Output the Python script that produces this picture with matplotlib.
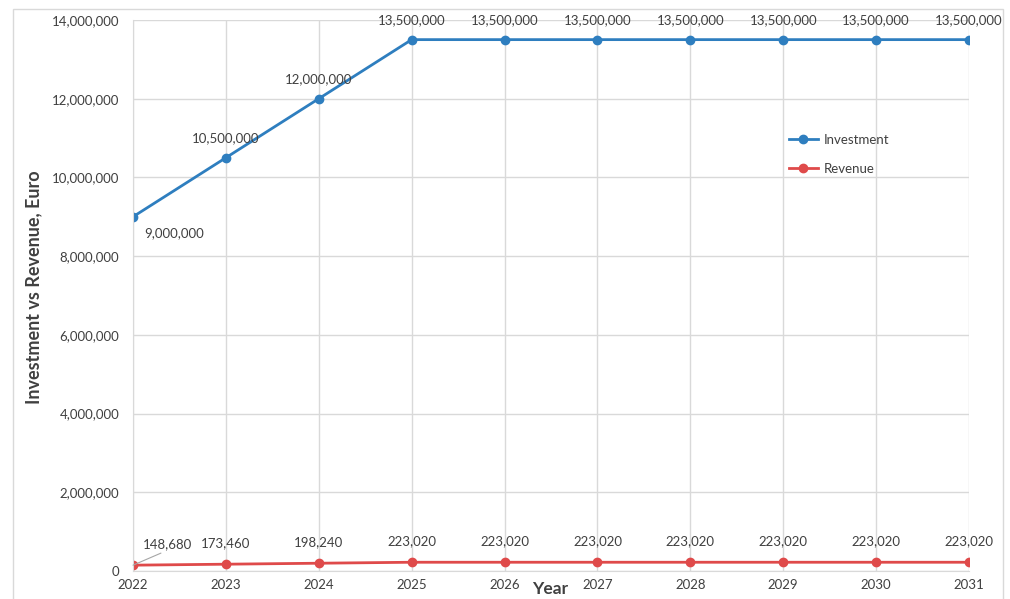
import numpy as np
import matplotlib.pyplot as plt
from matplotlib.patches import Rectangle
from matplotlib.ticker import FuncFormatter

plt.rcParams['font.family'] = ['Lato', 'DejaVu Sans']

years = [2022, 2023, 2024, 2025, 2026, 2027, 2028, 2029, 2030, 2031]
investment = [9000000, 10500000, 12000000, 13500000, 13500000, 13500000,
              13500000, 13500000, 13500000, 13500000]
revenue = [148680, 173460, 198240, 223020, 223020, 223020, 223020, 223020,
           223020, 223020]

azul = '#2e7ebf'
rojo = '#df4a4a'
gris = '#d9d9d9'
texto = '#404040'

fig = plt.figure(figsize=(10.1, 5.99), dpi=100)
ax = fig.add_axes([0.1317, 0.0467, 0.8277, 0.92])

# marco exterior del grafico
fig.patches.append(Rectangle((0.013, -0.01), 0.98, 0.995, transform=fig.transFigure,
                             fill=False, edgecolor=gris, linewidth=1))

ax.plot(years, investment, color=azul, lw=2, marker='o', ms=6, label='Investment')
ax.plot(years, revenue, color=rojo, lw=2, marker='o', ms=6, label='Revenue')

ax.set_xlim(2022, 2031)
ax.set_ylim(0, 14000000)
ax.set_xticks(years)
ax.set_yticks(np.arange(0, 14000001, 2000000))
ax.yaxis.set_major_formatter(FuncFormatter(lambda v, p: f"{int(v):,}"))
ax.grid(True, color=gris, lw=1)
ax.set_axisbelow(True)
for s in ['top', 'right']:
    ax.spines[s].set_visible(False)
for s in ['left', 'bottom']:
    ax.spines[s].set_color(gris)
ax.tick_params(length=0, labelsize=9.5, colors=texto, pad=6)
ax.tick_params(axis='y', pad=10)

# etiquetas de datos
for i, (x, y) in enumerate(zip(years, investment)):
    if i == 0:
        ax.annotate(f"{y:,}", (x, y), xytext=(8, -12), textcoords='offset points',
                    fontsize=9.5, color=texto, ha='left', va='center')
    else:
        ax.annotate(f"{y:,}", (x, y), xytext=(0, 14), textcoords='offset points',
                    fontsize=9.5, color=texto, ha='center', va='center')

for i, (x, y) in enumerate(zip(years, revenue)):
    if i == 0:
        ax.annotate(f"{y:,}", (x, y), xytext=(7, 15), textcoords='offset points',
                    fontsize=9.5, color=texto, ha='left', va='center',
                    arrowprops=dict(arrowstyle='-', color='#a6a6a6', lw=0.8,
                                    shrinkA=0, shrinkB=0, relpos=(0.5, 0)))
    else:
        ax.annotate(f"{y:,}", (x, y), xytext=(0, 15), textcoords='offset points',
                    fontsize=9.5, color=texto, ha='center', va='center')

ax.legend(loc='upper left', bbox_to_anchor=(0.77, 0.815), frameon=False,
          fontsize=9.5, labelcolor=texto, handlelength=2.2, labelspacing=1.3,
          handletextpad=0.5)

fig.text(0.545, 0.016, 'Year', fontsize=12.5, fontweight='bold', color=texto,
         ha='center', va='center')
fig.text(0.033, 0.52, 'Investment vs Revenue, Euro', fontsize=13, fontweight='bold',
         color=texto, ha='center', va='center', rotation=90)

fig.savefig('out.png', dpi=100)
